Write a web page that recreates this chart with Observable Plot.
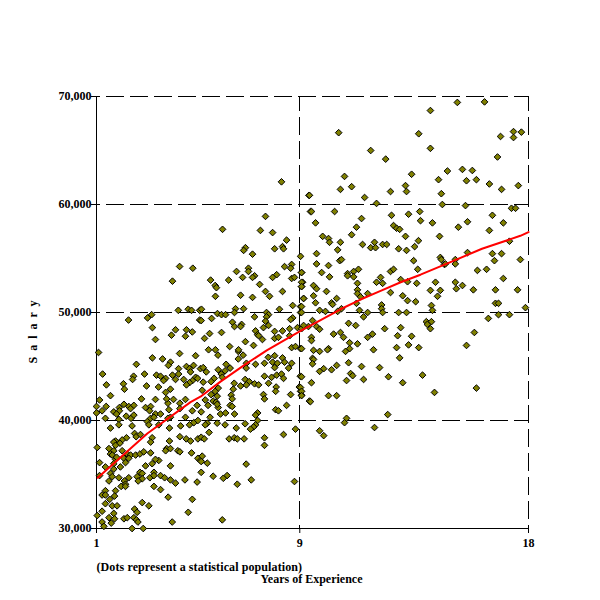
<!DOCTYPE html>
<html><head><meta charset="utf-8">
<script src="https://cdn.jsdelivr.net/npm/d3@7"></script>
<script src="https://cdn.jsdelivr.net/npm/@observablehq/plot@0.6"></script>
<style>html,body{margin:0;padding:0;background:#fff}svg{display:block;background:#fff}
.salary-label text{letter-spacing:1.5px}.note-label text{letter-spacing:.1px}</style>
</head><body><div id="chart"></div>
<script>
const xTicks = [1, 9, 18];
const yTicks = [30, 40, 50, 60, 70];
const fitYears = [1.05,3,4.7,5.09,5.88,6.8,7.7,9.03,9.82,10.6,11.39,12.18,12.97,13.75,14.86,16.17,17.68,18];
const fitSalary = [34.7,38.8,41.7,42.2,43.6,45.1,46.5,48.3,49.3,50.3,51.2,52.0,52.8,53.5,54.6,55.9,57.1,57.45];
const population = [
[1.38,41.3],[1,41.3],[1.22,40.9],[1,40.7],[1.68,40.8],[1.9,41.2],[2.08,41.5],[2.27,41.3],[2.47,41.4],[2.34,41.1],[1.9,40.9],[1.79,40.6],[2.17,40.4],[2.36,40.2],[2.47,40.5],[2.93,41.2],[3.13,41.3],[3.09,40.9],[3.32,40.6],[3.52,40.6],[3.81,41.6],[3.85,41],[4.28,41.6],[4.28,41.1],[4.77,40.9],[4.96,41.4],[4.5,40.3],[3.91,40.3],[3.81,40.2],[1.35,40.2],[3,39.9],[3.06,39.6],[1.88,40.1],[1.88,39.6],[2.4,39.5],[1.55,39.3],[3.45,39.6],[3.87,39.3],[4.31,39.5],[4.66,39.6],[4.83,39.8],[4.99,40],[3.13,40.2],[3.26,40.3],
[2.5,38.8],[2.56,38.5],[2.73,38.7],[2.18,38.4],[2.01,38.2],[1.75,38.1],[1.68,38],[1.92,37.9],[1.75,37.7],[1.68,37.2],[1.49,37.4],[1.03,37.5],[1.55,36.9],[1.62,36.8],[2.01,37.2],[2.21,36.9],[2.34,36.8],[2.08,36.5],[1.75,36.4],[1.68,36],[1.79,36.6],[2.27,36.5],[2.14,36.1],[2.54,36.8],[2.71,36.9],[2.86,37.1],[3.13,37],[3.19,38.4],[3.13,38],[3.76,37.4],[3.72,37.2],[3.91,37.4],[3.87,38.1],[4.28,38.5],[4.53,38.3],[4.7,38.1],[4.99,38.3],[4.2,37.2],[4.28,37.1],[4.74,37],[4.99,36.5],[5.09,36.3],[3.45,36.3],[3.32,36.4],[3.19,36],[2.93,35.8],[3.91,35.8],[1.12,36.1],[1.35,35.7],[1.94,35.7],[1.68,35.5],[1.55,35.1],[1.62,34.8],[1.12,34.9],[1.49,34.4],[2.71,35.2],[2.8,35.1],[2.6,34.8],[2.8,34.6],[2.64,34.4],[3.26,35.2],[3.1,34.7],[3.26,34.9],[3.52,34.9],[3.68,34.7],[3.91,34.5],[4.11,34.2],[4.48,34.5],[4.96,34.3],[1.88,34.7],[2.1,34.4],[2.27,34.7],[2.14,34.1],[1.97,33.9],[2.14,33.9],[3.26,33.9],[3.52,33.6],[1.35,33.5],[1.22,33.1],[1.75,33.5],[1.71,33],[1.35,33.1],[1.52,32.7],[3.82,32.9],[4.77,32.7],[2.8,32.4],[1.35,32.3],[1.62,32.1],[1.81,32.1],[3.06,32.1],[1.22,31.6],[2.5,31.8],[2.6,31.5],[4.61,31.5],[1.03,31.2],[1.68,31.4],[1.49,31],[1.71,30.9],[1.58,30.5],[1.22,30.6],[1.29,30.2],[2.08,30.9],[2.21,31],[2.47,31],[2.57,30.8],[2.63,30.6],[3.98,30.6],[2.4,30],[2.84,30],
[4.27,54.26],[3.99,52.9],[4.79,54.1],[4.22,50.2],[4.61,50.3],[4.74,50.2],[5.06,50.2],[3.17,49.8],[3.01,49.5],[2.26,49.3],[5.06,49.3],[3.2,48.6],[4.11,48.4],[4.54,48.4],[4.77,48.2],[3.95,47.9],[4.5,47.8],[3.32,47.5],[1.08,46.3],[4.27,46.2],[4.9,46],[3.2,45.8],[3.6,45.7],[3.91,45.4],[3.83,45.1],[2.57,45.2],[4.23,44.8],[4.54,45],[4.66,44.8],[4.82,45.1],[5.09,44.8],[1.24,44.3],[2.89,44.3],[3.36,44.2],[3.52,44.1],[3.72,43.9],[3.64,43.7],[3.99,44.2],[4.23,44.3],[4.7,44.5],[4.11,43.8],[4.43,43.8],[2.46,44.1],[2.42,43.8],[4.9,44],[4.98,43.9],[4.78,43.7],[4.66,43.5],[4.54,43.3],[1.39,43.3],[2.06,43.4],[2.1,42.9],[2.97,43.2],[3.44,43.1],[3.91,42.9],[3.72,42.6],[1.55,42.3],[2.77,42],[3.76,42],[3.32,41.95],[4.03,41.95],[1.12,41.9],[4.5,41.95],
[5.78,46.05],[6.58,46.4],[6.77,46.05],[6.58,45.7],[7.76,45.85],[8.01,46],[8.32,45.8],[7.61,45.3],[7.93,45.4],[8.12,45.3],[8.4,45.4],[8.68,45.3],[8.01,44.9],[8.56,44.85],[7.26,45.2],[6.9,45.3],[6.89,44.85],[6.1,45.2],[6.26,44.85],[5.2,44.9],[5.32,44.5],[5.79,44.7],[5.91,44.3],[6.06,44.6],[5.63,43.9],[5.51,43.6],[5.95,44],[7.61,44.1],[7.89,44],[8.09,44.2],[8.28,44.3],[8.36,43.9],[9.02,44.1],[5.2,43.55],[6.42,43.45],[6.85,43.8],[7.01,43.6],[6.67,43.2],[6.9,43.3],[7.22,43.4],[7.38,43.3],[7.77,43.45],[8.98,43.1],[8.07,43.1],[8.05,42.7],[5.79,43],[5.67,42.7],[5.16,42.8],[5.51,42.4],[6.38,42.9],[6.3,42.35],[5.75,42.25],[9.03,42.7],[8.64,42.4],[9.07,42.35],[7.57,42.4],[7.61,42],[5.28,41.9],[5.59,41.8],[5.71,41.7],[6.34,42],[6.26,41.4],[6.34,41.3],[5.39,41.4],[5.79,41.2],[5.75,41.5],[9.38,41.8],[8.48,41.4],[8.05,41],[8.16,40.9],[5.12,40.8],[5.88,40.6],[6.08,40.7],[6.43,40.6],[7.34,40.7],[7.26,40.5],[5.47,40.3],[7.34,40],[5.36,39.75],[5.28,39.6],[5.75,39.75],[6.06,39.6],[6.85,39.7],[7.26,39.6],[7.18,39.4],[7.06,39.2],[6.5,39.3],[8.83,39.2],[5.43,38.9],[8.36,38.7],[5.12,38.45],[5.24,38.3],[6.22,38.3],[6.42,38.4],[6.54,38.3],[6.81,38.3],[7.61,38.4],[7.61,37.7],[5.16,36.7],[5.12,36.2],[5.36,36.05],[6.89,35.96],[5.12,35.2],[5.59,34.84],[6.14,34.9],[5.99,34.65],[7.09,34.5],[6.54,34.1],[8.79,34.35],[5.95,30.8],
[8.28,62.1],[9.36,60.85],[9.42,59.35],[7.65,58.9],[5.96,57.7],[7.45,57.6],[7.93,57.4],[8.48,56.7],[6.86,56],[6.79,55.75],[8.01,55.9],[8.32,56.1],[8.36,55.9],[7.14,55.4],[9.03,55.2],[8.68,54.45],[8.4,54.25],[8.64,54.1],[6.98,54.1],[6.98,53.8],[6.51,53.8],[9.07,53.7],[7.22,53.4],[7.14,53.25],[6.75,53.25],[8.09,53.5],[7.93,53.25],[8.68,53.15],[8.79,53.25],[5.49,53],[6.2,53],[9.11,52.8],[7.42,52.6],[5.67,52.5],[5.72,52.3],[9.07,52.4],[7.65,51.95],[8.32,51.95],[6.67,51.6],[5.68,51.5],[7.14,51.4],[7.81,51.5],[9.15,51.3],[8.72,50.65],[9.03,50.55],[5.13,50.3],[6.47,50.35],[6.79,50.35],[8.2,50.3],[6.43,50],[5.76,49.9],[5.92,49.8],[6.08,49.8],[7.69,50],[7.77,49.8],[9.03,50],[7.22,49.6],[7.69,49.6],[5.53,49.45],[5.12,49.25],[8.72,49.5],[8.64,49.35],[7.65,49.2],[6.35,49.1],[6.71,48.9],[7.77,48.8],[6.43,48.7],[6.67,48.7],[7.57,48.6],[8.6,48.5],[8.91,48.6],[9.07,48.5],[7.26,48.3],[8.01,48.25],[8.32,48.3],[5.45,48.05],[5.92,48.15],[7.34,47.95],[7.38,47.85],[8.6,47.85],[5.25,47.6],[7.53,47.5],[8.01,47.6],[8.16,47.7],[6.86,47.3],[6.24,46.85],[7.18,46.95],[5.41,46.55],[5.68,46.55],[6.59,46.55],[8.68,46.75],[8.83,46.85],[9.03,46.65],[9.34,48.7],
[9.66,54.5],[10.13,54.35],[10.57,54.8],[9.86,53.7],[9.07,53.7],[10.17,53.3],[10.88,53.6],[10.88,53.4],[11.12,53.8],[11.31,54],[11.12,53.3],[12.18,53.25],[12.57,53.8],[12.69,54],[13.64,54],[9.07,52.8],[9.07,52.4],[9.54,52.5],[9.66,52.2],[11.27,52.7],[12.02,52.8],[12.26,52.7],[12.97,53.05],[13.24,52.85],[13.6,52.7],[10.05,51.95],[11.27,52.1],[11.27,51.75],[11.67,51.75],[11.39,51.45],[12.57,51.85],[9.54,51.55],[10.45,51.3],[9.15,51.3],[13.05,51.55],[13.24,51.1],[13.56,51],[9.62,50.9],[10.25,50.9],[10.29,50.75],[11.23,50.85],[12.22,50.7],[9.07,50.55],[10.64,50.35],[12.22,50.35],[9.78,50.2],[10.01,50.1],[10.49,50.1],[11.35,50.2],[11.67,50],[12.26,50],[12.89,50],[13.2,50],[9.07,50],[11.51,49.6],[9.5,49.25],[10.92,49],[11.2,48.8],[9.15,48.8],[9.66,48.7],[9.78,48.45],[12.34,48.5],[12.97,48.6],[10.33,48],[10.6,48.15],[10.72,47.7],[11.86,48],[11.67,47.7],[12.85,47.85],[13.4,47.8],[9.46,47.7],[9.46,47.4],[10.96,47.2],[11.27,47.1],[13.28,47],[10.96,46.65],[10.8,46.4],[10.13,46.65],[10.09,46.55],[9.54,46.5],[9.78,46.4],[9.07,46.65],[11.9,46.55],[12.81,46.75],[13.68,46.75],[12.93,45.8],[9.5,45.75],[9.54,45.65],[9.5,45.25],[10.92,45.35],[10.45,45.1],[11.43,45],[12.14,44.9],[9.94,44.8],[9.78,44.55],[10.25,44.7],[11,44.35],[11.08,44.15],[12.49,44.05],[9.07,44.05],[10.84,43.7],[11.51,43.8],[9.46,43.5],[13.05,43.5],[9.03,43.05],[9.07,42.7],[9.07,42.3],[10.13,42.3],[10.45,42.3],[9.42,41.75],[12.46,40.55],[10.84,40.2],[10.76,39.8],[11.94,39.35],[9.78,39.05],[9.94,38.6],
[10.53,66.65],[13.68,66.55],[11.79,65],[12.38,64.2],[10.76,62.6],[13.4,62.8],[13.16,61.75],[11.04,61.65],[10.6,61.4],[12.57,61.2],[13.2,61.2],[9.38,60.85],[11.55,60.65],[12.02,60.1],[9.46,59.35],[10.37,59.35],[12.61,59],[13.28,59.1],[13.72,59.35],[13.75,58.5],[11.43,58.7],[9.62,58.3],[11.23,57.9],[12.69,58.05],[12.81,57.8],[12.93,57.7],[11.04,57.2],[9.9,57.05],[10.13,56.85],[13.16,57.05],[10.17,56.5],[10.6,56.5],[11.94,56.5],[11.47,56.3],[12.26,56.3],[12.42,56.3],[13.67,56.65],[13.52,56.1],[11.79,56],[11.98,56],[12.89,55.9],[13.2,55.75],[10.49,55.8],[9.66,55.45],[10.64,54.9],[13.48,54.8],
[15.2,69.45],[16.27,69.5],[14.14,68.7],[17.41,66.75],[17.72,66.7],[16.9,66.3],[17.41,66.2],[14.14,65.2],[16.78,64.4],[14.81,63.1],[15.4,63.25],[15.79,63.15],[14.46,62.3],[15.56,62.2],[15.95,62.3],[16.46,61.9],[16.94,61.4],[17.6,61.75],[14.57,61],[14.61,60],[15.52,59.9],[17.33,59.65],[17.49,59.65],[16.58,59],[14.22,58.3],[15.6,58.4],[17.01,58.3],[15.24,57.9],[16.46,57.6],[14.5,57.05],
[17.25,56.6],[15.6,55.55],[16.58,55.45],[16.94,55.45],[14.53,55.1],[14.57,54.9],[15.12,54.9],[17.68,54.9],[16.66,54.8],[14.69,54.45],[14.73,54.5],[15.12,54.5],[15.99,53.9],[16.35,54],[17.01,53.15],[14.34,52.8],[15.12,52.8],[15.4,52.5],[15.16,52.2],[14.14,52.05],[14.53,52.05],[15.83,52.1],[16.7,52.1],[17.57,52.1],[14.42,51.5],[14.18,50.65],[14.22,50.2],[16.7,50.85],[16.82,50.85],[17.88,50.45],[16.82,49.8],[17.25,49.8],[16.42,49.45],[13.98,49.15],[14.18,49.15],[14.02,48.9],[14.14,48.5],[15.87,48.15],[15.56,46.95],[13.83,44.2],[14.3,42.6],[15.95,43]
];
const font = "'Liberation Serif','Times New Roman',serif";
const chart = Plot.plot({
  width: 600, height: 600,
  marginLeft: 96, marginRight: 72, marginTop: 96, marginBottom: 72,
  style: {background: "#fff", fontFamily: font, fontSize: "12px", fontWeight: "bold", color: "#000"},
  x: {domain: [1, 18], label: null},
  y: {domain: [30, 70], label: null},
  marks: [
    Plot.ruleY([40, 50, 60, 70], {stroke: "#000", strokeWidth: 1, strokeDasharray: "18,6", strokeDashoffset: 14, shapeRendering: "crispEdges"}),
    Plot.ruleX([9, 18], {y1: 70, y2: 30, stroke: "#000", strokeWidth: 1, strokeDasharray: "18,6", strokeDashoffset: 3, shapeRendering: "crispEdges"}),
    Plot.ruleX([1], {stroke: "#000", strokeWidth: 1, shapeRendering: "crispEdges"}),
    Plot.ruleY([30], {stroke: "#000", strokeWidth: 1, shapeRendering: "crispEdges"}),
    Plot.axisX({ticks: xTicks, tickValues: xTicks, tickSize: 5, tickPadding: 5, tickFormat: d => String(d), label: null, fill: "#000", stroke: "#000", fontWeight: "bold"}),
    Plot.axisY({ticks: yTicks, tickValues: yTicks, tickSize: 5, tickPadding: 0, tickFormat: d => d3.format(",")(d * 1000), label: null, fill: "#000", fontWeight: "bold"}),
    Plot.dot(population, {x: d => d[0], y: d => d[1], symbol: "diamond2", r: 3, fill: "#808000", stroke: "#000", strokeWidth: 1}),
    Plot.line(fitYears.map((x, i) => [x, fitSalary[i]]), {x: d => d[0], y: d => d[1], stroke: "#ff0000", strokeWidth: 2, curve: "linear"}),
    Plot.text(["(Dots represent a statistical population)"], {className: "note-label", frameAnchor: "bottom-left", textAnchor: "start", dy: 42, fontWeight: "bold", fontSize: 12, fill: "#000"}),
    Plot.text(["Years of Experience"], {frameAnchor: "bottom", dx: -1, dy: 54, fontWeight: "bold", fontSize: 12, fill: "#000"}),
    Plot.text(["S a l a r y"], {className: "salary-label", frameAnchor: "left", rotate: -90, dx: -63, dy: 51, fontWeight: "bold", fontSize: 12, fill: "#000"})
  ]
});
document.getElementById("chart").appendChild(chart);
</script></body></html>
